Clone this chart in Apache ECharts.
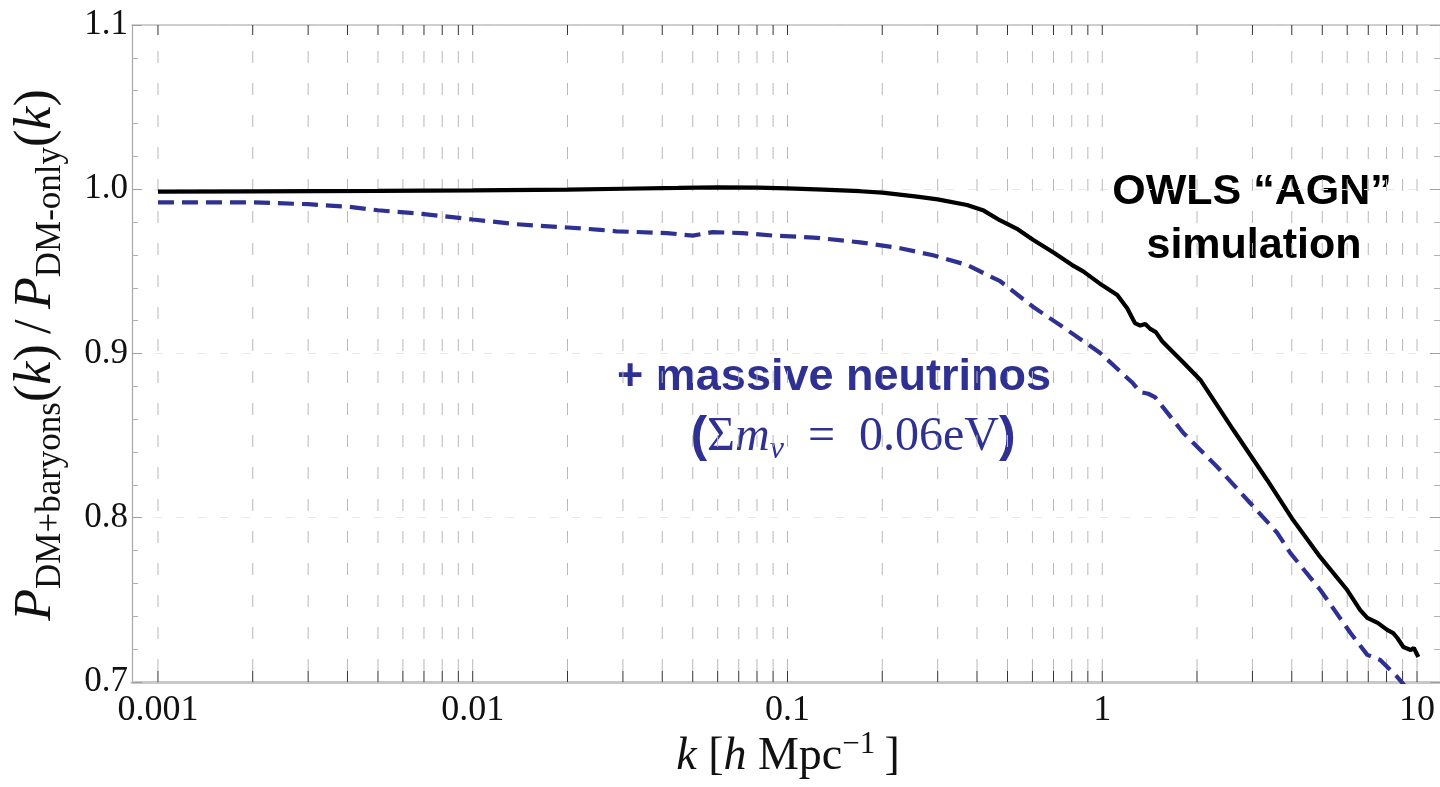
<!DOCTYPE html>
<html><head><meta charset="utf-8">
<script src="https://cdn.jsdelivr.net/npm/echarts@6/dist/echarts.min.js"></script>
<style>html,body{margin:0;padding:0;background:#fff}#c{width:1440px;height:787px}</style>
</head><body><div id="c"></div>
<script>
// ---- data ----
const kAGN = [0.001,0.002,0.005,0.01,0.02,0.03,0.045,0.06,0.08,0.1,0.13,0.17,0.2,0.258,0.3,0.372,0.42,0.474,0.54,0.604,0.7,0.8,0.87,1.0,1.116,1.2,1.27,1.32,1.37,1.42,1.48,1.55,1.8,2.05,2.61,3.34,4.04,4.93,6.0,6.6,6.95,7.5,8.04,8.4,8.66,9.05,9.55,9.77,10.1];
const rAGN = [0.9985,0.9987,0.999,0.9993,0.9998,1.0003,1.0008,1.0012,1.0010,1.0005,0.9998,0.9988,0.9979,0.9955,0.9938,0.9904,0.9870,0.9810,0.9755,0.9691,0.9615,0.9540,0.9500,0.9415,0.9356,0.9275,0.9185,0.9170,0.9180,0.9150,0.9130,0.9075,0.8950,0.8839,0.8534,0.823,0.7986,0.776,0.756,0.7438,0.739,0.736,0.7317,0.7298,0.7268,0.7213,0.7195,0.7207,0.7152];
const kNu = [0.001,0.002,0.003,0.004,0.005,0.007,0.01,0.0138,0.02,0.0254,0.0286,0.0414,0.05,0.0578,0.072,0.09,0.121,0.17,0.228,0.29,0.372,0.474,0.604,0.774,0.985,1.25,1.32,1.40,1.47,1.81,2.32,2.95,3.6,3.96,4.93,6.14,6.95,7.64,8.66,9.4];
const rNu = [0.992,0.992,0.9909,0.9894,0.9872,0.9849,0.9816,0.9787,0.9767,0.9753,0.9744,0.9733,0.9718,0.9739,0.9733,0.9718,0.9706,0.9677,0.9641,0.9598,0.9539,0.9440,0.9283,0.9143,0.9003,0.882,0.8766,0.8755,0.8735,0.8516,0.8309,0.809,0.7907,0.7785,0.756,0.730,0.7165,0.7134,0.703,0.695];
const xTickLabels = ['0.001','0.01','0.1','1','10'];
const xDecades = [0.001,0.01,0.1,1,10];
const gridMult = [1,2,3,4,5,6,7,8,9];
const yTicks = [0.7,0.8,0.9,1.0,1.1];
const xRange = [0.000827, 11.83];

const gridK = [];
xDecades.forEach((d,i)=>{ if(i<xDecades.length-1){ gridMult.forEach(m=>gridK.push(+(m*d).toPrecision(6))); } else gridK.push(d); });

const chart = echarts.init(document.getElementById('c'), null, {renderer:'canvas'});
const serif = "'Liberation Serif','DejaVu Serif',serif";
const sans = "'Liberation Sans',Arial,sans-serif";
const navy = '#2e3192';

function xLabelFmt(v){
  const l = Math.log10(v), r = Math.round(l);
  if (Math.abs(l-r) < 1e-6) { const i = xDecades.findIndex(d=>Math.abs(Math.log10(d)-r)<1e-6); return i>=0 ? xTickLabels[i] : ''; }
  return '';
}

const option = {
  animation:false,
  backgroundColor:'#fff',
  grid:{left:132, top:25, right:0, bottom:105, show:false},
  xAxis:[{
    type:'log', logBase:10, min:xRange[0], max:xRange[1], position:'bottom',
    axisLine:{show:true, onZero:false, lineStyle:{color:'#c8c8c8', width:3}},
    axisTick:{show:false}, splitLine:{show:false}, minorTick:{show:false},
    axisLabel:{show:true, formatter:xLabelFmt, margin:11, color:'#111', fontFamily:serif, fontSize:36, showMinLabel:false, showMaxLabel:false}
  },{
    type:'log', logBase:10, min:xRange[0], max:xRange[1], position:'top',
    axisLine:{show:true, onZero:false, lineStyle:{color:'#c0c0c0', width:1.5}},
    axisTick:{show:false}, splitLine:{show:false}, axisLabel:{show:false}
  }],
  yAxis:[{
    type:'value', min:yTicks[0], max:yTicks[yTicks.length-1], interval:0.1, position:'left',
    axisLine:{show:true, onZero:false, lineStyle:{color:'#a8a8a8', width:1.2}},
    axisTick:{show:true, inside:true, length:10, lineStyle:{color:'#a0a0a0'}},
    minorTick:{show:true, splitNumber:5, length:6, lineStyle:{color:'#b0b0b0'}},
    splitLine:{show:true, lineStyle:{color:'#e8e8e8', type:[8,14], width:1}},
    axisLabel:{formatter:v=>v.toFixed(1), margin:4, color:'#111', fontFamily:serif, fontSize:35}
  },{
    type:'value', min:yTicks[0], max:yTicks[yTicks.length-1], interval:0.1, position:'right',
    axisLine:{show:true, onZero:false, lineStyle:{color:'#c0c0c0', width:1.2}},
    axisTick:{show:true, inside:true, length:10, lineStyle:{color:'#a0a0a0'}},
    minorTick:{show:true, splitNumber:5, length:6, lineStyle:{color:'#b0b0b0'}},
    splitLine:{show:false}, axisLabel:{show:false}
  }],
  series:[{
    type:'custom', silent:true, z:1,
    data:gridK.map(k=>[k]),
    encode:{x:0},
    renderItem:function(params, api){
      const k = api.value(0);
      const b = api.coord([k, yTicks[0]]);
      const t = api.coord([k, yTicks[yTicks.length-1]]);
      return {type:'group', children:[
        {type:'line', shape:{x1:b[0],y1:b[1]-11,x2:t[0],y2:t[1]+12}, style:{stroke:'#b8b8b8', lineWidth:1, lineDash:[12,20]}},
        {type:'line', shape:{x1:b[0],y1:b[1],x2:b[0],y2:b[1]-11}, style:{stroke:'#333', lineWidth:1}},
        {type:'line', shape:{x1:t[0],y1:t[1],x2:t[0],y2:t[1]+10}, style:{stroke:'#333', lineWidth:1}}
      ]};
    }
  },{
    name:'AGN', type:'line', z:3, data:kAGN.map((k,i)=>[k,rAGN[i]]),
    showSymbol:false, smooth:false, lineStyle:{color:'#000', width:4.2}, clip:true
  },{
    name:'nu', type:'line', z:2, data:kNu.map((k,i)=>[k,rNu[i]]),
    showSymbol:false, smooth:false, lineStyle:{color:navy, width:4.2, type:[16,8]}, clip:true
  }],
  graphic:[
    {type:'text', x:36, y:355, rotation:Math.PI/2, silent:true, style:{
      text:'{p|P}{s|DM+baryons}{n|(}{i|k}{n|)\u2009/\u2009}{p|P}{s|DM-only}{n|(}{i|k}{n|)}',
      align:'center', verticalAlign:'middle', fill:'#111',
      rich:{
        p:{fontFamily:serif, fontStyle:'italic', fontSize:52, lineHeight:64, fill:'#111'},
        i:{fontFamily:serif, fontStyle:'italic', fontSize:52, lineHeight:64, fill:'#111'},
        n:{fontFamily:serif, fontSize:52, lineHeight:64, fill:'#111'},
        s:{fontFamily:serif, fontSize:35, lineHeight:32, verticalAlign:'bottom', fill:'#111'}
      }}},
    {type:'text', x:788, y:757, silent:true, style:{
      text:'{i|k}{n| [}{i|h}{n| Mpc}{u|−1}{n|\u2009]}',
      align:'center', verticalAlign:'middle', fill:'#111',
      rich:{
        i:{fontFamily:serif, fontStyle:'italic', fontSize:46, lineHeight:56, fill:'#111'},
        n:{fontFamily:serif, fontSize:46, lineHeight:56, fill:'#111'},
        u:{fontFamily:serif, fontSize:31, lineHeight:26, verticalAlign:'top', fill:'#111'}
      }}},
    {type:'text', x:1252, y:192, silent:true, style:{text:'OWLS “AGN”', align:'center', verticalAlign:'middle', fill:'#000', fontFamily:sans, fontWeight:'bold', fontSize:43}},
    {type:'text', x:1254, y:246, silent:true, style:{text:'simulation', align:'center', verticalAlign:'middle', fill:'#000', fontFamily:sans, fontWeight:'bold', fontSize:43}},
    {type:'text', x:834, y:378, silent:true, style:{text:'+ massive neutrinos', align:'center', verticalAlign:'middle', fill:navy, fontFamily:sans, fontWeight:'bold', fontSize:45}},
    {type:'text', x:853, y:437, silent:true, style:{
      text:'{b|(}{n|Σ}{i|m}{s|ν}{n|  =  0.06eV}{b|)}',
      align:'center', verticalAlign:'middle', fill:navy,
      rich:{
        b:{fontFamily:sans, fontWeight:'bold', fontSize:50, lineHeight:58, fill:navy},
        n:{fontFamily:serif, fontSize:48, lineHeight:58, fill:navy},
        i:{fontFamily:serif, fontStyle:'italic', fontSize:48, lineHeight:58, fill:navy},
        s:{fontFamily:serif, fontStyle:'italic', fontSize:32, lineHeight:30, verticalAlign:'bottom', fill:navy}
      }}}
  ]
};
chart.setOption(option);
</script>
</body></html>
